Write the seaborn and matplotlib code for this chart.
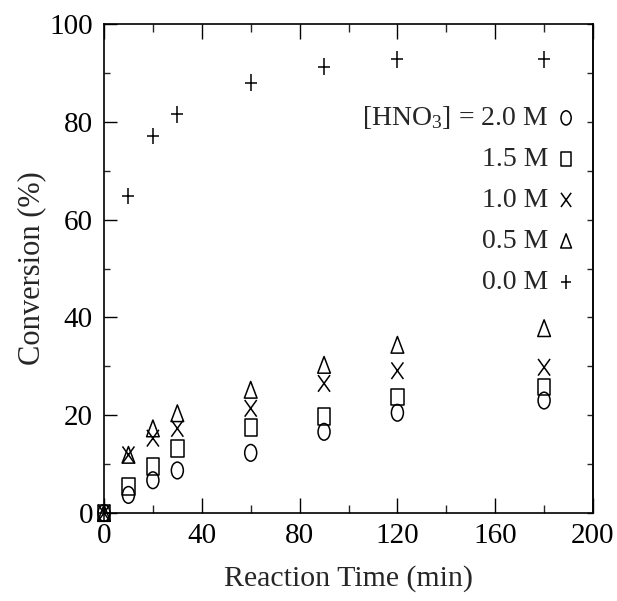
import numpy as np
import pandas as pd
import matplotlib
matplotlib.use("Agg")
import matplotlib.pyplot as plt
from matplotlib.path import Path
from matplotlib.ticker import MultipleLocator
import seaborn as sns

# ---- data ----
time_min = [0, 10, 20, 30, 60, 90, 120, 180]
conv_2_0 = [0, 3.7, 6.7, 8.7, 12.3, 16.6, 20.5, 23.0]
conv_1_5 = [0, 5.4, 9.5, 13.2, 17.5, 19.8, 23.7, 25.8]
conv_1_0 = [0, 11.9, 15.3, 17.3, 21.4, 26.5, 29.1, 29.8]
conv_0_5 = [0, 11.9, 17.3, 20.4, 25.2, 30.3, 34.4, 37.8]
conv_0_0 = [0, 64.8, 77.1, 81.5, 88.0, 91.3, 92.8, 92.8]
labels = ["[HNO$_3$] = 2.0 M", "1.5 M", "1.0 M", "0.5 M", "0.0 M"]
x_ticks = [0, 40, 80, 120, 160, 200]
y_ticks = [0, 20, 40, 60, 80, 100]

sns.set_style("white")
plt.rcParams["font.family"] = ["Liberation Serif", "DejaVu Serif"]
plt.rcParams["mathtext.fontset"] = "custom"
plt.rcParams["mathtext.rm"] = "Liberation Serif"
plt.rcParams["mathtext.default"] = "regular"

# marker shapes (slightly tall, as in the scanned figure)
ellipse = Path.unit_circle().transformed(matplotlib.transforms.Affine2D().scale(0.72, 1.0))
square = Path([(-0.37, -0.5), (0.37, -0.5), (0.37, 0.5), (-0.37, 0.5), (-0.37, -0.5)],
              [Path.MOVETO, Path.LINETO, Path.LINETO, Path.LINETO, Path.CLOSEPOLY])
cross = Path([(-0.36, -0.5), (0.36, 0.5), (-0.36, 0.5), (0.36, -0.5)],
             [Path.MOVETO, Path.LINETO, Path.MOVETO, Path.LINETO])
tri = Path([(-0.38, -0.5), (0.38, -0.5), (0.0, 0.5), (-0.38, -0.5)],
           [Path.MOVETO, Path.LINETO, Path.LINETO, Path.CLOSEPOLY])
plus = Path([(-0.36, 0), (0.36, 0), (0, -0.5), (0, 0.5)],
            [Path.MOVETO, Path.LINETO, Path.MOVETO, Path.LINETO])
markers = [ellipse, square, cross, tri, plus]
series = [conv_2_0, conv_1_5, conv_1_0, conv_0_5, conv_0_0]

fig = plt.figure(figsize=(6.17, 6.01), dpi=100)
ax = fig.add_axes([104 / 617, 1 - 513 / 601, 489 / 617, 489 / 601])

for lab, vals, mk in zip(labels, series, markers):
    df = pd.DataFrame({"t": time_min, "c": vals})
    sns.scatterplot(data=df, x="t", y="c", ax=ax, marker=mk, s=12 ** 2,
                    facecolors="none", edgecolors="black", color="black",
                    linewidths=1.1, label=lab, clip_on=False, zorder=3)

ax.set_xlim(0, 200)
ax.set_ylim(0, 100)
ax.set_xticks(x_ticks)
ax.set_yticks(y_ticks)
ax.xaxis.set_minor_locator(MultipleLocator(20))
ax.yaxis.set_minor_locator(MultipleLocator(10))
ax.tick_params(axis="x", which="major", direction="in", length=11, width=1,
               top=True, bottom=True, labelsize=21, pad=7, colors="black")
ax.tick_params(axis="x", which="minor", direction="in", length=5.5, width=1,
               top=True, bottom=True)
ax.tick_params(axis="y", which="major", direction="in", length=9, width=1,
               left=True, right=False, labelsize=21, pad=8, colors="black")
ax.tick_params(axis="y", which="minor", direction="in", length=4.5, width=1,
               left=True, right=False)
sec = ax.secondary_yaxis("right")
sec.set_yticks(list(range(0, 101, 10)))
sec.tick_params(direction="in", length=4, width=1, labelright=False)
sec.spines["right"].set_linewidth(1.2)

for sp in ax.spines.values():
    sp.set_linewidth(1.2)
    sp.set_color("black")

ax.set_xlabel("Reaction Time (min)", fontsize=21.5, labelpad=12)
ax.set_ylabel("Conversion (%)", fontsize=22, labelpad=2)

ax.legend(loc="upper right", bbox_to_anchor=(0.962, 0.836), frameon=False,
          markerfirst=False, fontsize=20, markerscale=0.85, handlelength=0.6,
          handletextpad=0.35, labelspacing=0.56, borderpad=0, borderaxespad=0)

fig.savefig("out.png", dpi=100)
